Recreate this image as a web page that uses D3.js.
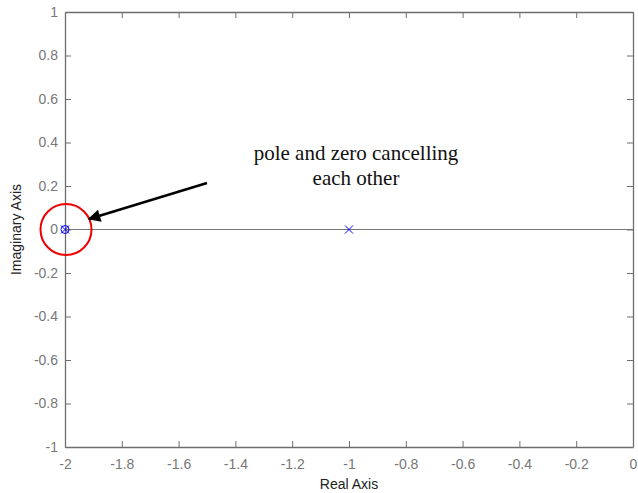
<!DOCTYPE html>
<html>
<head>
<meta charset="UTF-8" />
<script src="https://d3js.org/d3.v7.min.js"></script>
<style>
  body { margin: 0; background: #fff; }
  svg { font-family: "Liberation Sans", Arial, sans-serif; }
  .tick text { fill: #777; font-size: 14px; }
</style>
</head>
<body>
<div id="chart"></div>
<script>
  const poles = [[-2, 0], [-1, 0]];
  const zeros = [[-2, 0]];
  const xTicks = [-2, -1.8, -1.6, -1.4, -1.2, -1, -0.8, -0.6, -0.4, -0.2, 0];
  const yTicks = [-1, -0.8, -0.6, -0.4, -0.2, 0, 0.2, 0.4, 0.6, 0.8, 1];
  const noteLines = ["pole and zero cancelling", "each other"];

  const width = 638, height = 493;
  const margin = {left: 65, right: 5, top: 12, bottom: 46};

  const svg = d3.select("#chart").append("svg")
    .attr("width", width).attr("height", height);

  const x = d3.scaleLinear().domain([-2, 0]).range([margin.left, width - margin.right]);
  const y = d3.scaleLinear().domain([-1, 1]).range([height - margin.bottom, margin.top]);

  const axisCol = "#6e6e6e";
  const fmt = d => d3.format("")(d).replace("−", "-");

  function style(g) {
    g.select(".domain").attr("stroke", axisCol).attr("stroke-width", 1.3);
    g.selectAll(".tick line").attr("stroke", axisCol);
  }

  // zero line
  svg.append("line")
    .attr("x1", x(-2)).attr("x2", x(0))
    .attr("y1", y(0)).attr("y2", y(0))
    .attr("stroke", "#777").attr("stroke-width", 1);

  svg.append("g").attr("transform", `translate(0,${y(-1)})`)
    .call(d3.axisBottom(x).tickValues(xTicks).tickFormat(fmt).tickSizeInner(-6).tickSizeOuter(0).tickPadding(12))
    .call(style);
  svg.append("g").attr("transform", `translate(0,${y(1)})`)
    .call(d3.axisTop(x).tickValues(xTicks).tickFormat("").tickSizeInner(-6).tickSizeOuter(0))
    .call(style);
  svg.append("g").attr("transform", `translate(${x(-2)},0)`)
    .call(d3.axisLeft(y).tickValues(yTicks).tickFormat(fmt).tickSizeInner(-6).tickSizeOuter(0).tickPadding(7))
    .call(style);
  svg.append("g").attr("transform", `translate(${x(0)},0)`)
    .call(d3.axisRight(y).tickValues(yTicks).tickFormat("").tickSizeInner(-6).tickSizeOuter(0))
    .call(style);

  svg.selectAll(".tick text").style("font-family", "Liberation Sans, Arial, sans-serif");

  // axis labels
  svg.append("text")
    .attr("x", x(-1)).attr("y", 489)
    .attr("text-anchor", "middle").attr("font-size", 14).attr("fill", "#222")
    .text("Real Axis");
  svg.append("text")
    .attr("transform", `translate(21,${y(0)}) rotate(-90)`)
    .attr("text-anchor", "middle").attr("font-size", 14).attr("fill", "#222")
    .text("Imaginary Axis");

  // zeros
  svg.selectAll(".zero").data(zeros).enter().append("circle")
    .attr("class", "zero")
    .attr("cx", d => x(d[0])).attr("cy", d => y(d[1])).attr("r", 4)
    .attr("fill", "none").attr("stroke", "#0000ff").attr("stroke-width", 1);

  // poles
  const s = 4;
  svg.selectAll(".pole").data(poles).enter().append("path")
    .attr("class", "pole")
    .attr("d", d => {
      const px = x(d[0]), py = y(d[1]);
      return `M${px - s},${py - s}L${px + s},${py + s}M${px - s},${py + s}L${px + s},${py - s}`;
    })
    .attr("stroke", "#0000ff").attr("stroke-width", 1).attr("fill", "none");

  // red highlight circle
  svg.append("circle")
    .attr("cx", x(-2) + 1).attr("cy", y(0)).attr("r", 25.5)
    .attr("fill", "none").attr("stroke", "#ee0000").attr("stroke-width", 2);

  // arrow
  svg.append("defs").append("marker")
    .attr("id", "head").attr("viewBox", "0 0 10 10")
    .attr("refX", 9).attr("refY", 5)
    .attr("markerWidth", 7).attr("markerHeight", 5)
    .attr("markerUnits", "strokeWidth")
    .attr("orient", "auto")
    .append("path").attr("d", "M0,0L10,5L0,10Z").attr("fill", "#000");
  svg.append("line")
    .attr("x1", 207).attr("y1", 183).attr("x2", 89).attr("y2", 219)
    .attr("stroke", "#000").attr("stroke-width", 2.5)
    .attr("marker-end", "url(#head)");

  // annotation
  svg.append("text")
    .attr("x", 356).attr("y", 160)
    .attr("text-anchor", "middle")
    .attr("font-family", "Liberation Serif, Times New Roman, serif")
    .attr("font-size", 21).attr("fill", "#111")
    .selectAll("tspan").data(noteLines).enter().append("tspan")
    .attr("x", 356).attr("dy", (d, i) => i ? 25 : 0)
    .text(d => d);
</script>
</body>
</html>
